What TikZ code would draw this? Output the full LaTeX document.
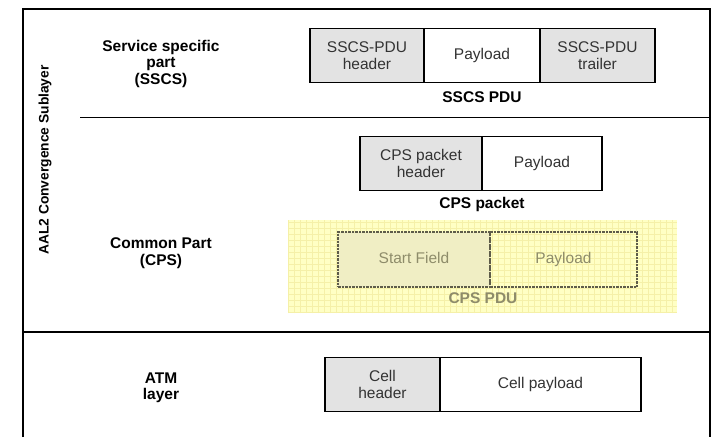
\documentclass[tikz,border=0pt]{standalone}
\usepackage{fontspec}
\setmainfont{Liberation Sans}
\definecolor{boxtext}{HTML}{333333}
\definecolor{graybox}{HTML}{E3E3E3}
\definecolor{yelbg}{HTML}{FFFFC4}
\definecolor{yelgrid}{HTML}{F5F0A8}
\definecolor{dashcol}{HTML}{5E5C4A}
\definecolor{fadetext}{HTML}{8E8C6A}
\definecolor{sffill}{HTML}{F0EEC4}
\begin{document}
\begin{tikzpicture}[x=1pt,y=-1pt,
  frame/.style={line width=1.4pt,black},
  cell/.style={draw=black,line width=1.1pt,minimum height=54pt,inner sep=0pt,font=\fontsize{15.5}{16.7}\selectfont,align=center,text=boxtext},
  grayfill/.style={fill=graybox},
  dcell/.style={draw=dashcol,dashed,dash pattern=on 2.5pt off 1pt,line width=1.2pt,minimum height=55pt,inner sep=0pt,text height=11.5pt,text depth=3.5pt,font=\fontsize{15.5}{16.7}\selectfont,text=fadetext},
  lab/.style={font=\bfseries\fontsize{15.5}{16.5}\selectfont,align=center},
  side/.style={font=\bfseries\fontsize{15.5}{16.5}\selectfont,align=center}]
\useasboundingbox (0,0) rectangle (713,437);
\fill[white] (0,0) rectangle (713,437);
% frame
\draw[frame] (23,437) -- (23,9) -- (710,9) -- (710,437);
\draw[line width=1pt] (80,117) -- (710,117);
\draw[line width=1.4pt] (23,332) -- (710,332);
\node[rotate=90,font=\bfseries\fontsize{13.8}{15}\selectfont] (aal) at (45,160) {AAL2 Convergence Sublayer};
% SSCS
\node[side] (sscs) at (161,63.5) {Service specific\\part\\(SSCS)};
\node[cell,grayfill,minimum width=114pt] (sh) at (367,55.5) {SSCS-PDU\\header};
\node[cell,minimum width=116pt] (sp) at (482,55.5) {Payload};
\node[cell,grayfill,minimum width=115pt] (st) at (597.5,55.5) {SSCS-PDU\\trailer};
\node[lab] (sl) at (482,97) {SSCS PDU};
% CPS
\node[side] (cps) at (161,253) {Common Part\\(CPS)};
\node[cell,grayfill,minimum width=122pt] (ch) at (421,163.5) {CPS packet\\header};
\node[cell,minimum width=120pt] (cp) at (542,163.5) {Payload};
\node[lab] (cl) at (482,204) {CPS packet};
% yellow area
\fill[yelbg] (288,220) rectangle (677,313);
\begin{scope}
\clip (288,220) rectangle (677,313);
\draw[yelgrid,line width=0.5pt,step=6pt] (288,220) grid (677,313);
\end{scope}
\node[dcell,fill=sffill,minimum width=152pt] (sf) at (414,259.5) {Start Field};
\node[dcell,minimum width=147pt] (pp) at (563.5,259.5) {Payload};
\node[lab,text=fadetext] (pl) at (483,298) {CPS PDU};
% ATM
\node[side] (atm) at (161,388) {ATM\\layer};
\node[cell,grayfill,minimum width=115pt] (hh) at (382.5,384.5) {Cell\\header};
\node[cell,minimum width=201pt] (hp) at (540.5,384.5) {Cell payload};
\end{tikzpicture}
\end{document}
